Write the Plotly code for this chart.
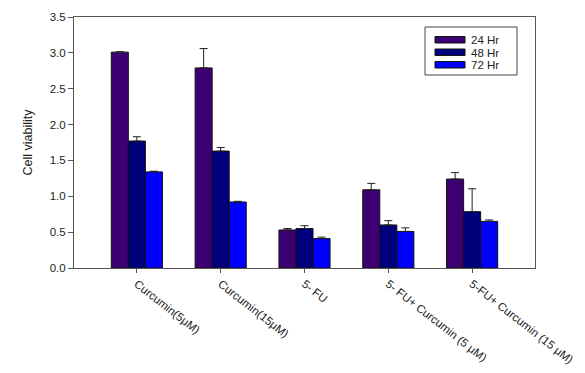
import plotly.graph_objects as go

categories = ["Curcumin(5μM)", "Curcumin(15μM)", "5- FU",
              "5- FU+ Curcumin (5 μM)", "5-FU+ Curcumin (15 μM)"]
series_names = ["24 Hr", "48 Hr", "72 Hr"]
vals_24 = [3.01, 2.79, 0.53, 1.09, 1.24]
vals_48 = [1.77, 1.63, 0.55, 0.60, 0.785]
vals_72 = [1.34, 0.92, 0.41, 0.51, 0.65]
err_24 = [0.005, 0.27, 0.02, 0.09, 0.09]
err_48 = [0.06, 0.05, 0.04, 0.06, 0.32]
err_72 = [0.01, 0.01, 0.02, 0.05, 0.02]
colors = ["#3d0072", "#00007c", "#0000ff"]
y_ticks = [0.0, 0.5, 1.0, 1.5, 2.0, 2.5, 3.0, 3.5]

W, H = 585, 373
ML, MR, MT, MB = 74, 50, 17, 105
PW, PH = W - ML - MR, H - MT - MB


def fx(px):
    return (px - ML) / PW


def fy(py):
    return (H - MB - py) / PH


fig = go.Figure()
for name, vals, errs, col in zip(series_names, [vals_24, vals_48, vals_72],
                                 [err_24, err_48, err_72], colors):
    fig.add_trace(go.Bar(
        x=categories, y=vals, name=name, showlegend=False,
        marker=dict(color=col, line=dict(color="#111111", width=1)),
        error_y=dict(type="data", symmetric=False, array=errs,
                     arrayminus=[0] * len(errs), color="#222222",
                     thickness=1, width=4),
    ))

# custom legend (wide swatches like the original)
shapes = [dict(type="rect", xref="paper", yref="paper",
               x0=fx(425), x1=fx(517), y0=fy(27), y1=fy(75),
               line=dict(color="#444444", width=1), fillcolor="white", layer="above")]
annotations = []
for i, (name, col) in enumerate(zip(series_names, colors)):
    top = 36.5 + i * 12.5
    shapes.append(dict(type="rect", xref="paper", yref="paper",
                       x0=fx(435), x1=fx(465), y0=fy(top), y1=fy(top + 6.5),
                       line=dict(color="#111111", width=1), fillcolor=col,
                       layer="above"))
    annotations.append(dict(xref="paper", yref="paper", x=fx(470), y=fy(top + 3.3),
                            xanchor="left", yanchor="middle", text=name,
                            height=11, borderpad=0,
                            showarrow=False, font=dict(size=11.5, color="#222222")))

fig.update_layout(
    width=W, height=H,
    margin=dict(l=ML, r=MR, t=MT, b=MB, autoexpand=False),
    paper_bgcolor="white", plot_bgcolor="white",
    barmode="group", bargap=0.39, bargroupgap=0,
    font=dict(family="Liberation Sans, Arial", size=11.5, color="#222222"),
    showlegend=False,
    shapes=shapes, annotations=annotations,
    xaxis=dict(range=[-0.75, 4.75], tickangle=38, showline=True,
               linecolor="#555555", linewidth=1, mirror=True,
               ticks="outside", ticklen=4, tickcolor="#555555",
               tickfont=dict(size=11.5), showgrid=False, automargin=False),
    yaxis=dict(range=[0, 3.5], tickvals=y_ticks,
               ticktext=[f"{v:.1f}" for v in y_ticks],
               showline=True, linecolor="#555555", linewidth=1, mirror=True,
               ticks="outside", ticklen=5, tickcolor="#555555",
               showgrid=False, zeroline=False, automargin=False,
               title=dict(text="Cell viability", font=dict(size=12.5), standoff=14)),
)

fig.write_html("out.html", config={"displayModeBar": False},
               post_script="document.body.style.margin='0';document.body.style.overflow='hidden';")
